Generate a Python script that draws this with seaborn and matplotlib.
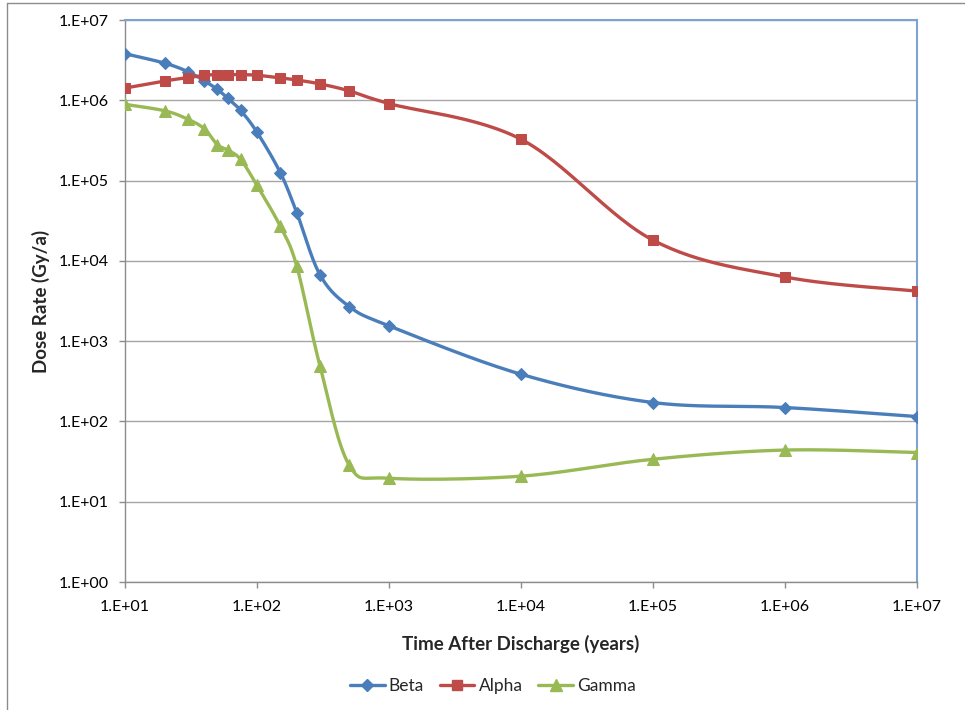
import numpy as np
import pandas as pd
import matplotlib
matplotlib.use("Agg")
import matplotlib.pyplot as plt
import seaborn as sns
from matplotlib.lines import Line2D
from matplotlib.ticker import FixedLocator, FuncFormatter, NullLocator

# ---- data ----
beta_t = [10, 20, 30, 40, 50, 60, 75, 100, 150, 200, 300, 500, 1000, 1e4, 1e5, 1e6, 1e7]
beta_v = [3.8e6, 2.9e6, 2.27e6, 1.74e6, 1.37e6, 1.06e6, 7.5e5, 4.0e5, 1.26e5, 4.0e4,
          6.7e3, 2.7e3, 1.55e3, 387, 172, 149, 115]

alpha_t = [10, 20, 30, 40, 50, 60, 75, 100, 150, 200, 300, 500, 1000, 1e4, 1e5, 1e6, 1e7]
alpha_v = [1.42e6, 1.74e6, 1.92e6, 2.05e6, 2.09e6, 2.09e6, 2.09e6, 2.05e6, 1.9e6, 1.79e6,
           1.6e6, 1.31e6, 9.1e5, 3.27e5, 1.81e4, 6.3e3, 4.2e3]

gamma_t = [10, 20, 30, 40, 50, 60, 75, 100, 150, 200, 300, 500, 1000, 1e4, 1e5, 1e6, 1e7]
gamma_v = [8.9e5, 7.4e5, 5.8e5, 4.4e5, 2.8e5, 2.4e5, 1.84e5, 8.7e4, 2.7e4, 8.6e3,
           491, 28.5, 19.6, 20.8, 33.8, 44, 41]

series_names = ["Beta", "Alpha", "Gamma"]
colors = ["#4A7EBB", "#BE4B48", "#98B954"]
markers = ["D", "s", "^"]
marker_sizes = [6.0, 7.5, 8.0]

x_ticks = [1e1, 1e2, 1e3, 1e4, 1e5, 1e6, 1e7]
y_ticks = [1e0, 1e1, 1e2, 1e3, 1e4, 1e5, 1e6, 1e7]


def smooth_curve(xs, ys, n=30):
    """Excel-style smoothed line (cubic Bezier through points) in log-log space."""
    lx = np.log10(np.asarray(xs, float))
    ly = np.log10(np.asarray(ys, float))
    P = np.column_stack([lx, ly])
    out = []
    m = len(P)
    for i in range(m - 1):
        p0 = P[i - 1] if i > 0 else P[i]
        p1 = P[i]
        p2 = P[i + 1]
        p3 = P[i + 2] if i + 2 < m else P[i + 1]
        c1 = p1 + (p2 - p0) / 6.0
        c2 = p2 - (p3 - p1) / 6.0
        t = np.linspace(0, 1, n)[:, None]
        seg = ((1 - t) ** 3) * p1 + 3 * ((1 - t) ** 2) * t * c1 + 3 * (1 - t) * t ** 2 * c2 + t ** 3 * p2
        if i > 0:
            seg = seg[1:]
        out.append(seg)
    out = np.vstack(out)
    return 10 ** out[:, 0], 10 ** out[:, 1]


sns.set_style("white")
plt.rcParams["font.family"] = ["Lato", "DejaVu Sans"]

fig = plt.figure(figsize=(9.65, 7.10), dpi=100)
W, H = 965, 710
ax = fig.add_axes([125 / W, 1 - 582 / H, (917 - 125) / W, (582 - 20) / H])

datasets = [(beta_t, beta_v), (alpha_t, alpha_v), (gamma_t, gamma_v)]
for name, (t, v), c, mk, ms in zip(series_names, datasets, colors, markers, marker_sizes):
    sx, sy = smooth_curve(t, v)
    df_line = pd.DataFrame({"t": sx, "v": sy})
    sns.lineplot(data=df_line, x="t", y="v", ax=ax, color=c, lw=2.4,
                 sort=False, estimator=None, zorder=3)
    df_pts = pd.DataFrame({"t": t, "v": v})
    sns.lineplot(data=df_pts, x="t", y="v", ax=ax, color=c, lw=0, marker=mk,
                 markersize=ms, markeredgecolor=c, sort=False, estimator=None, zorder=4)

ax.set_xscale("log")
ax.set_yscale("log")
ax.set_xlim(1e1, 1e7)
ax.set_ylim(1e0, 1e7)

ax.xaxis.set_major_locator(FixedLocator(x_ticks))
ax.yaxis.set_major_locator(FixedLocator(y_ticks))
ax.xaxis.set_minor_locator(NullLocator())
ax.yaxis.set_minor_locator(NullLocator())
fmt = FuncFormatter(lambda v, p: "1.E+%02d" % int(round(np.log10(v))))
ax.xaxis.set_major_formatter(fmt)
ax.yaxis.set_major_formatter(fmt)

ax.grid(axis="y", color="#A6A6A6", lw=1.0)
ax.grid(axis="x", visible=False)
ax.set_axisbelow(True)

for s in ["left", "bottom"]:
    ax.spines[s].set_color("#8C8C8C")
    ax.spines[s].set_linewidth(1.0)
for s in ["top", "right"]:
    ax.spines[s].set_visible(True)
    ax.spines[s].set_color("#7EA3D3")
    ax.spines[s].set_linewidth(1.5)

ax.tick_params(axis="both", which="major", direction="out", length=4, width=1,
               color="#8C8C8C", labelsize=11.5, labelcolor="black")
ax.tick_params(axis="x", pad=9)
ax.tick_params(axis="y", pad=8)
ax.tick_params(left=True, bottom=True)

ax.set_xlabel("Time After Discharge (years)", fontsize=13.5, fontweight="bold", labelpad=15)
ax.set_ylabel("Dose Rate (Gy/a)", fontsize=13.5, fontweight="bold", labelpad=6)

handles = [Line2D([0], [0], color=c, lw=2.4, marker=mk, markersize=ms, markeredgecolor=c)
           for c, mk, ms in zip(colors, markers, marker_sizes)]
fig.legend(handles, series_names, loc="center", bbox_to_anchor=(493 / W, 1 - 686 / H),
           ncol=3, frameon=False, fontsize=12.5, handlelength=2.0, handletextpad=0.25,
           columnspacing=0.9)

# outer chart-area border (partially visible)
fig.add_artist(Line2D([7 / W, 7 / W], [0, 1 - 3 / H], transform=fig.transFigure,
                      color="#8C8C8C", lw=1.0))
fig.add_artist(Line2D([7 / W, 1], [1 - 3 / H, 1 - 3 / H], transform=fig.transFigure,
                      color="#8C8C8C", lw=1.0))

fig.savefig("out.png", dpi=100)
